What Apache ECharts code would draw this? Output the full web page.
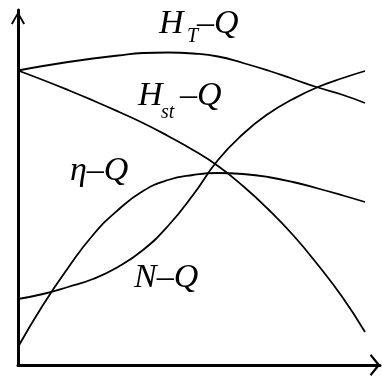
<!DOCTYPE html>
<html>
<head>
<meta charset="utf-8">
<script src="https://cdn.jsdelivr.net/npm/echarts@6/dist/echarts.min.js"></script>
<style>
	html, body { margin: 0; padding: 0; background: #fff; }
	#chart { width: 382px; height: 379px; }
</style>
</head>
<body>
<div id="chart"></div>
<script>
// flow Q (shared by all curves)
const qValues = [0, 25, 50, 75, 100, 125, 150, 175, 200, 225, 250, 275, 300, 325, 347];
// head, theoretical
const hT = [294.5, 299, 303, 306.5, 309.5, 312, 312.5, 311.5, 308.5, 302, 294.5, 286, 277.5, 270, 262];
// head, static
const hSt = [294.5, 285, 275, 264.5, 253.5, 242, 229, 215, 199, 179, 156, 130, 100, 67, 33];
// efficiency
const eta = [18, 60, 97, 130, 155, 174, 185, 190, 192, 191, 188, 183, 176.5, 169.5, 163];
// power
const power = [66, 71, 78, 86, 98, 115, 139, 170, 205, 231, 251, 266, 278, 287, 294];

function pairs(ys) {
	return qValues.map((q, i) => [q, ys[i]]);
}

const chart = echarts.init(document.getElementById("chart"));
const font = "italic 34px 'Liberation Serif', 'Times New Roman', serif";
const subFont = "italic 20px 'Liberation Serif', 'Times New Roman', serif";
// open chevron heads, tip at top centre
const arrowY = "path://M10,0 L20,17 L17.6,18.4 L10,4.6 L2.4,18.4 L0,17 Z";
const arrowX = "path://M11,0 L22,9 L20.6,10.6 L11,3 L1.4,10.6 L0,9 Z";

function line(data) {
	return {
		type: "line",
		data: pairs(data),
		smooth: true,
		showSymbol: false,
		silent: true,
		lineStyle: { color: "#000", width: 1.8 },
	};
}

function txt(x, y, text, f) {
	return {
		type: "text",
		x: x,
		y: y,
		silent: true,
		style: { text: text, font: f || font, fill: "#000", textAlign: "left", textVerticalAlign: "middle" },
	};
}

chart.setOption({
	animation: false,
	grid: { left: 18, right: 2, top: 10, bottom: 14 },
	xAxis: {
		type: "value",
		min: 0,
		max: 362,
		axisLine: { lineStyle: { color: "#000", width: 3 }, symbol: ["none", arrowX], symbolSize: [22, 11], symbolOffset: [0, -5] },
		axisTick: { show: false },
		axisLabel: { show: false },
		splitLine: { show: false },
	},
	yAxis: {
		type: "value",
		min: 0,
		max: 355,
		axisLine: { show: true, lineStyle: { color: "#000", width: 3 }, symbol: ["none", arrowY], symbolSize: [14, 17], symbolOffset: [0, -8] },
		axisTick: { show: false },
		axisLabel: { show: false },
		splitLine: { show: false },
	},
	series: [line(hT), line(hSt), line(eta), line(power)],
	graphic: [
		txt(159, 24, "H"),
		txt(187, 37, "T", subFont),
		txt(197, 24, "–Q"),
		txt(138, 96, "H"),
		txt(161, 113, "st", subFont),
		txt(180, 96, "–Q"),
		txt(70, 171, "η–Q"),
		txt(134, 278, "N–Q"),
	],
});
</script>
</body>
</html>
